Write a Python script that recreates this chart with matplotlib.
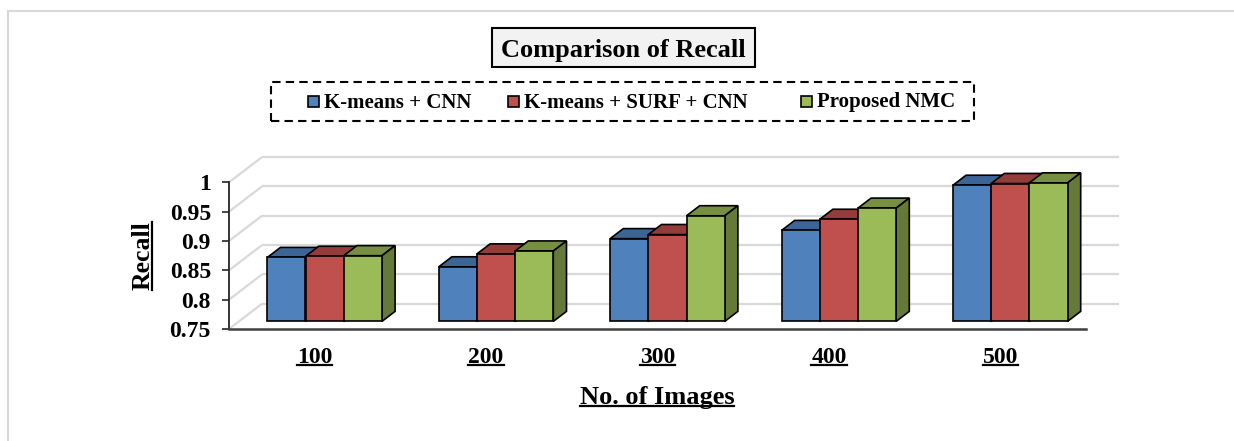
import matplotlib
matplotlib.use("Agg")
import matplotlib.pyplot as plt
from matplotlib.patches import Polygon, Rectangle
from matplotlib.lines import Line2D

# ---- data -------------------------------------------------------------
categories = ["100", "200", "300", "400", "500"]
series_names = ["K-means + CNN", "K-means + SURF + CNN", "Proposed NMC"]
kmeans_cnn = [0.859, 0.843, 0.891, 0.905, 0.982]
kmeans_surf_cnn = [0.861, 0.865, 0.898, 0.924, 0.985]
proposed_nmc = [0.862, 0.870, 0.930, 0.943, 0.986]
y_ticks = [0.75, 0.8, 0.85, 0.9, 0.95, 1.0]
y_tick_labels = ["0.75", "0.8", "0.85", "0.9", "0.95", "1"]

series_values = [kmeans_cnn, kmeans_surf_cnn, proposed_nmc]
front_colors = ["#4F81BD", "#C0504D", "#9BBB59"]
top_colors = ["#3C6494", "#943C3A", "#778F43"]
side_colors = ["#345780", "#80332F", "#657A38"]

FONT = "Liberation Serif"
W, H = 1234, 441

fig = plt.figure(figsize=(W / 100, H / 100), dpi=100)
fig.patch.set_facecolor("white")


def fx(x):
    return x / W


def fy(y):
    return 1 - y / H


# outer chart-area border (light grey)
fig.add_artist(Line2D([fx(8), fx(W)], [fy(11), fy(11)], color="#d9d9d9", lw=1.5))
fig.add_artist(Line2D([fx(8), fx(8)], [fy(11), fy(H)], color="#d9d9d9", lw=1.5))

# ---- plot area --------------------------------------------------------
ax_left, ax_right, ax_top, ax_bottom = 229, 1120, 150, 329
ax = fig.add_axes([fx(ax_left), fy(ax_bottom), (ax_right - ax_left) / W,
                   (ax_bottom - ax_top) / H])
ax.set_facecolor("none")

x0, x1 = -0.5, len(categories) - 0.5
front_right_px = 1086
px_per_x = (front_right_px - ax_left) / (x1 - x0)
ymin = y_ticks[0]
px_per_y = (ax_bottom - 150 - 0) / 0.305
ax.set_xlim(x0, x0 + (ax_right - ax_left) / px_per_x)
ax.set_ylim(ymin, ymin + (ax_bottom - ax_top) / px_per_y)

# oblique depth of the 3-D box, in data units
DX = 33 / px_per_x
DY = 25.2 / px_per_y
FX, FY = 0.3 * DX, 0.3 * DY        # bar front plane offset
BDX, BDY = 0.4 * DX, 0.4 * DY      # bar depth
bw = 38.2 / px_per_x               # bar width

# back wall and side wall gridlines
for v in y_ticks:
    ax.plot([x0, x0 + DX], [v, v + DY], color="#d9d9d9", lw=1.6, zorder=1,
            clip_on=False, solid_capstyle="butt")
    ax.plot([x0 + DX, x1 + DX], [v + DY, v + DY], color="#d9d9d9", lw=1.6,
            zorder=1, clip_on=False, solid_capstyle="butt")

# 3-D columns: drawn left to right so right-hand bars overlap their neighbours
edge_kw = dict(edgecolor="black", linewidth=1.2, joinstyle="miter")
for j, (vals, fc, tc, sc) in enumerate(zip(series_values, front_colors,
                                            top_colors, side_colors)):
    lefts = [i + FX - 1.5 * bw + j * bw for i in range(len(categories))]
    heights = [v - ymin for v in vals]
    ax.bar(lefts, heights, width=bw, bottom=ymin + FY, align="edge",
           color=fc, zorder=4 + 2 * j, **edge_kw)
    for l, v in zip(lefts, vals):
        base = ymin + FY
        top = v + FY
        ax.add_patch(Polygon([(l, top), (l + bw, top), (l + bw + BDX, top + BDY),
                              (l + BDX, top + BDY)], closed=True, facecolor=tc,
                             zorder=3 + 2 * j, **edge_kw))
        ax.add_patch(Polygon([(l + bw, base), (l + bw + BDX, base + BDY),
                              (l + bw + BDX, top + BDY), (l + bw, top)],
                             closed=True, facecolor=sc, zorder=3 + 2 * j,
                             **edge_kw))

# axes lines
for s in ("top", "right"):
    ax.spines[s].set_visible(False)
ax.spines["left"].set_bounds(ymin, y_ticks[-1])
ax.spines["left"].set_color("#262626")
ax.spines["left"].set_linewidth(1.3)
ax.spines["bottom"].set_bounds(x0, x1)
ax.spines["bottom"].set_color("#404040")
ax.spines["bottom"].set_linewidth(1.8)
ax.spines["left"].set_zorder(2)
ax.spines["bottom"].set_zorder(2)

ax.set_yticks(y_ticks)
ax.set_yticklabels(y_tick_labels, fontfamily=FONT, fontweight="bold", fontsize=17)
ax.tick_params(axis="y", length=5, width=1.2, color="#262626", pad=8)

ax.set_xticks(range(len(categories)))
ax.set_xticklabels(categories, fontfamily=FONT, fontweight="bold", fontsize=17)
ax.tick_params(axis="x", length=0, pad=13)

# axis titles
xlab = fig.text(fx(657), fy(404), "No. of Images", ha="center", va="baseline",
                fontfamily=FONT, fontweight="bold", fontsize=19)
ylab = fig.text(fx(143), fy(256), "Recall", ha="center", va="center",
                rotation=90, fontfamily=FONT, fontweight="bold", fontsize=18.5)

# chart title in a shaded box
fig.add_artist(Rectangle((fx(492), fy(67)), (755 - 492) / W, (67 - 28) / H,
                         facecolor="#f2f2f2", edgecolor="black", lw=1.5,
                         transform=fig.transFigure))
fig.text(fx(623.5), fy(57), "Comparison of Recall", ha="center", va="baseline",
         fontfamily=FONT, fontweight="bold", fontsize=19)

# legend with dashed frame
fig.add_artist(Rectangle((fx(271), fy(121)), (974 - 271) / W, (121 - 82) / H,
                         facecolor="none", edgecolor="black", lw=1.5,
                         linestyle=(0, (4, 2.5)), transform=fig.transFigure))
legend_marker_x = [307.5, 508, 801]
for name, color, mx in zip(series_names, front_colors, legend_marker_x):
    fig.add_artist(Rectangle((fx(mx), fy(107)), 11 / W, 11 / H, facecolor=color,
                             edgecolor="black", lw=1.2, transform=fig.transFigure))
    fig.text(fx(mx + 16), fy(107.5), name, ha="left", va="baseline",
             fontfamily=FONT, fontweight="bold", fontsize=15)

# underline the axis labels
fig.canvas.draw()
renderer = fig.canvas.get_renderer()


def underline(text_obj, vertical=False, offset=3.0, lw=1.6):
    bb = text_obj.get_window_extent(renderer)
    if vertical:
        x = bb.x1 + offset - 6
        fig.add_artist(Line2D([x / W, x / W], [bb.y0 / H, bb.y1 / H],
                              color="black", lw=lw))
    else:
        y = bb.y0 + offset
        fig.add_artist(Line2D([bb.x0 / W, bb.x1 / W], [y / H, y / H],
                              color="black", lw=lw))


for lab in ax.get_xticklabels():
    underline(lab)
underline(xlab)
underline(ylab, vertical=True)

fig.savefig("out.png", dpi=100, facecolor="white")
